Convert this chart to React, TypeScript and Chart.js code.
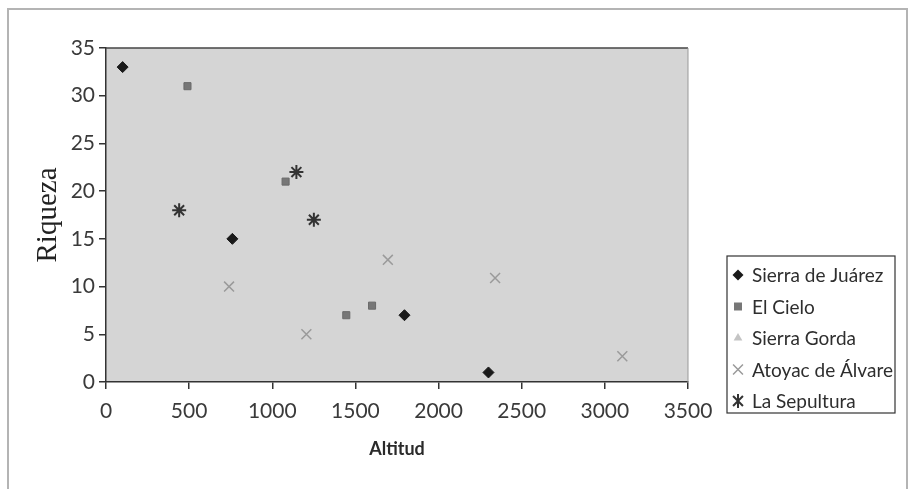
import React, { useEffect, useRef } from "react";
import { Chart, registerables } from "chart.js";

Chart.register(...registerables);

const seriesNames = ["Sierra de Juárez", "El Cielo", "Sierra Gorda", "Atoyac de Álvare", "La Sepultura"];

const juarezX = [100, 760, 1795, 2300];
const juarezY = [33, 15, 7, 1];

const cieloX = [490, 1080, 1445, 1600];
const cieloY = [31, 21, 7, 8];

const gordaX: number[] = [];
const gordaY: number[] = [];

const atoyacX = [740, 1205, 1695, 2340, 3105];
const atoyacY = [10, 5, 12.8, 10.9, 2.7];

const sepulturaX = [440, 1145, 1250];
const sepulturaY = [18, 22, 17];

const xTicks = [0, 500, 1000, 1500, 2000, 2500, 3000, 3500];
const yTicks = [0, 5, 10, 15, 20, 25, 30, 35];

const toPoints = (xs: number[], ys: number[]) => xs.map((x, i) => ({ x, y: ys[i] }));

const W = 913;
const H = 489;
const FONT = "Lato, 'Open Sans', sans-serif";

export default function App() {
  const ref = useRef<HTMLCanvasElement | null>(null);

  useEffect(() => {
    if (!ref.current) return;

    function drawMarker(ctx: CanvasRenderingContext2D, style: string, x: number, y: number, r: number) {
      ctx.beginPath();
      if (style === "rectRot") {
        ctx.moveTo(x, y - r);
        ctx.lineTo(x + r, y);
        ctx.lineTo(x, y + r);
        ctx.lineTo(x - r, y);
        ctx.closePath();
        ctx.fill();
      } else if (style === "rect") {
        const s = r * 0.8;
        ctx.rect(x - s, y - s, 2 * s, 2 * s);
        ctx.fill();
      } else if (style === "triangle") {
        ctx.moveTo(x, y - r);
        ctx.lineTo(x + r * 0.87, y + r * 0.5);
        ctx.lineTo(x - r * 0.87, y + r * 0.5);
        ctx.closePath();
        ctx.fill();
      } else if (style === "crossRot") {
        const d = r * 0.707;
        ctx.moveTo(x - d, y - d);
        ctx.lineTo(x + d, y + d);
        ctx.moveTo(x + d, y - d);
        ctx.lineTo(x - d, y + d);
        ctx.stroke();
      } else if (style === "star") {
        const d = r * 0.707;
        ctx.moveTo(x - d, y - d);
        ctx.lineTo(x + d, y + d);
        ctx.moveTo(x + d, y - d);
        ctx.lineTo(x - d, y + d);
        ctx.moveTo(x, y - r);
        ctx.lineTo(x, y + r);
        ctx.stroke();
      }
    }

    const frameAndArea = {
      id: "frameAndArea",
      beforeDraw(chart: any) {
        const ctx = chart.ctx;
        const a = chart.chartArea;
        ctx.save();
        ctx.fillStyle = "#ffffff";
        ctx.fillRect(0, 0, W, H);
        ctx.strokeStyle = "#b4b4b4";
        ctx.lineWidth = 2;
        ctx.strokeRect(8, 9, 899, 490);
        ctx.fillStyle = "#d5d5d5";
        ctx.fillRect(a.left, a.top, a.right - a.left, a.bottom - a.top);
        ctx.restore();
      },
      afterDatasetsDraw(chart: any) {
        const ctx = chart.ctx;
        const a = chart.chartArea;
        ctx.save();
        ctx.strokeStyle = "#444";
        ctx.lineWidth = 1.5;
        ctx.beginPath();
        ctx.moveTo(a.left, a.top);
        ctx.lineTo(a.right, a.top);
        ctx.stroke();
        ctx.strokeStyle = "#999";
        ctx.lineWidth = 1;
        ctx.beginPath();
        ctx.moveTo(a.right, a.top);
        ctx.lineTo(a.right, a.bottom);
        ctx.stroke();
        ctx.restore();
      },
    };

    const boxLegend = {
      id: "boxLegend",
      afterDraw(chart: any) {
        const ctx = chart.ctx;
        const bx = 727, by = 256, bw = 168, bh = 157;
        ctx.save();
        ctx.fillStyle = "#ffffff";
        ctx.fillRect(bx, by, bw, bh);
        ctx.strokeStyle = "#333";
        ctx.lineWidth = 1.2;
        ctx.strokeRect(bx, by, bw, bh);
        ctx.beginPath();
        ctx.rect(bx + 1, by + 1, bw - 2, bh - 2);
        ctx.clip();
        chart.data.datasets.forEach((ds: any, i: number) => {
          const y = by + 19 + i * 31.5;
          ctx.fillStyle = ds.pointBackgroundColor;
          ctx.strokeStyle = ds.pointBorderColor;
          ctx.lineWidth = ds.pointBorderWidth;
          drawMarker(ctx, ds.pointStyle, 738, y, ds.pointRadius);
          ctx.fillStyle = "#2e2e2e";
          ctx.font = `19px ${FONT}`;
          ctx.textBaseline = "middle";
          ctx.textAlign = "left";
          ctx.fillText(ds.label, 752, y + 1);
        });
        ctx.restore();
      },
    };

    const chart = new Chart(ref.current, {
      type: "scatter",
      data: {
        datasets: [
          {
            label: seriesNames[0],
            data: toPoints(juarezX, juarezY),
            pointStyle: "rectRot",
            pointRadius: 5.5,
            pointBackgroundColor: "#1a1a1a",
            pointBorderColor: "#1a1a1a",
            pointBorderWidth: 1,
          },
          {
            label: seriesNames[1],
            data: toPoints(cieloX, cieloY),
            pointStyle: "rect",
            pointRadius: 5,
            pointBackgroundColor: "#777777",
            pointBorderColor: "#6a6a6a",
            pointBorderWidth: 1,
          },
          {
            label: seriesNames[2],
            data: toPoints(gordaX, gordaY),
            pointStyle: "triangle",
            pointRadius: 5,
            pointBackgroundColor: "#c4c4c4",
            pointBorderColor: "#c4c4c4",
            pointBorderWidth: 1,
          },
          {
            label: seriesNames[3],
            data: toPoints(atoyacX, atoyacY),
            pointStyle: "crossRot",
            pointRadius: 7,
            pointBackgroundColor: "#9a9a9a",
            pointBorderColor: "#9a9a9a",
            pointBorderWidth: 1.5,
          },
          {
            label: seriesNames[4],
            data: toPoints(sepulturaX, sepulturaY),
            pointStyle: "star",
            pointRadius: 7,
            pointBackgroundColor: "#333333",
            pointBorderColor: "#333333",
            pointBorderWidth: 2,
          },
        ] as any,
      },
      options: {
        animation: false,
        responsive: false,
        devicePixelRatio: 1,
        layout: { padding: { top: 48, right: W - 688, left: 0, bottom: 0 } },
        plugins: {
          legend: { display: false },
          tooltip: { enabled: false },
        },
        scales: {
          x: {
            type: "linear",
            min: 0,
            max: 3500,
            afterFit: (s: any) => {
              s.height = H - 382;
            },
            afterBuildTicks: (s: any) => {
              s.ticks = xTicks.map((v) => ({ value: v }));
            },
            border: { color: "#333", width: 1.5 },
            grid: { drawOnChartArea: false, drawTicks: true, tickLength: 7, color: "#333", lineWidth: 1.5 },
            ticks: {
              color: "#3a3a3a",
              font: { family: FONT, size: 21 },
              padding: 10,
              maxRotation: 0,
              callback: (v: any) => String(v),
            },
            title: {
              display: true,
              text: "Altitud",
              color: "#2a2a2a",
              font: { family: FONT, size: 18, weight: "bold" },
              padding: { top: 0, bottom: 29 },
            },
          },
          y: {
            type: "linear",
            min: 0,
            max: 35,
            afterFit: (s: any) => {
              s.width = 106;
            },
            afterBuildTicks: (s: any) => {
              s.ticks = yTicks.map((v) => ({ value: v }));
            },
            border: { color: "#333", width: 1.5 },
            grid: { drawOnChartArea: false, drawTicks: true, tickLength: 7, color: "#333", lineWidth: 1.5 },
            ticks: {
              color: "#3a3a3a",
              font: { family: FONT, size: 21 },
              padding: 4,
              callback: (v: any) => String(v),
            },
            title: {
              display: true,
              text: "Riqueza",
              color: "#222",
              font: { family: "'Liberation Serif', 'DejaVu Serif', serif", size: 29 },
              padding: { top: 31, bottom: 0 },
            },
          },
        },
      },
      plugins: [frameAndArea, boxLegend],
    });

    return () => chart.destroy();
  }, []);

  return (
    <div style={{ position: "absolute", left: 0, top: 0, width: W, height: H }}>
      <canvas ref={ref} width={W} height={H} />
    </div>
  );
}
